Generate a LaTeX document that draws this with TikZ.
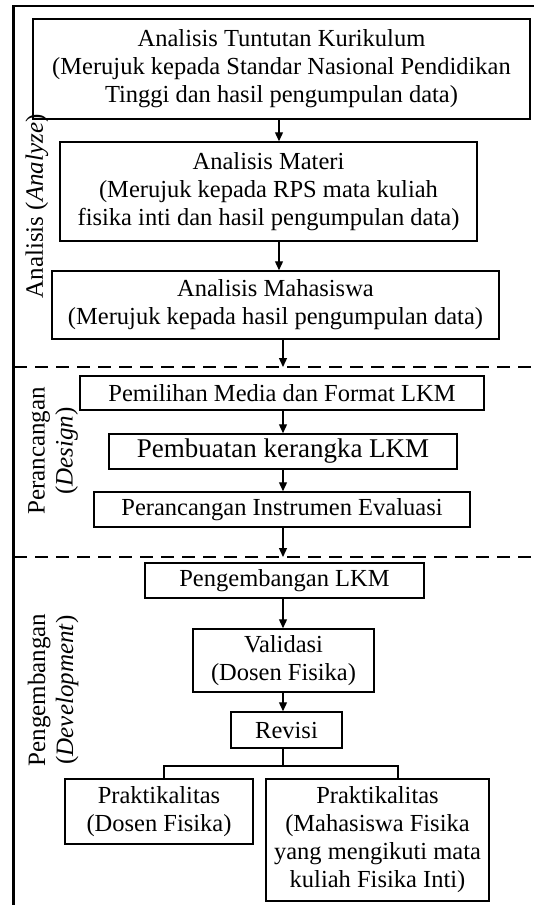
\documentclass[tikz,border=0pt]{standalone}
\usepackage{fontspec}
\setmainfont{Liberation Serif}
\usetikzlibrary{arrows.meta}
\tikzset{
  box/.style={draw, line width=1.5pt, inner sep=0pt, align=center, font=\fontsize{24.5}{28}\selectfont},
  bigbox/.style={box, font=\fontsize{27}{30}\selectfont},
  arr/.style={line width=1.3pt, -{Triangle[length=9pt,width=8pt]}},
  link/.style={line width=1.3pt},
  frame/.style={line width=2.8pt},
  dashline/.style={line width=1.6pt, dash pattern=on 13pt off 8pt},
  phase/.style={rotate=90, inner sep=0pt, align=center, font=\fontsize{25}{28}\selectfont}
}
\begin{document}
\begin{tikzpicture}[x=1pt,y=-1pt]
\useasboundingbox (0,0) rectangle (534,905);
\draw[frame] (534,6) -- (13.5,6) -- (13.5,905);
% arrow columns
\coordinate (ax1) at (279,0);
\coordinate (ax2) at (283,0);
\coordinate (d1) at (14,367);
\coordinate (d1r) at (534,367);
\coordinate (d2) at (14,557);
\coordinate (d2r) at (534,557);
\draw[dashline] (d1) -- (d1r);
\draw[dashline] (d2) -- (d2r);
% boxes
\node[box, minimum width=497pt, minimum height=100pt] (b1) at (281.5,69)
  {Analisis Tuntutan Kurikulum\\(Merujuk kepada Standar Nasional Pendidikan\\Tinggi dan hasil pengumpulan data)};
\node[box, minimum width=417pt, minimum height=99pt] (b2) at (268.5,191.5)
  {Analisis Materi\\(Merujuk kepada RPS mata kuliah\\fisika inti dan hasil pengumpulan data)};
\node[box, minimum width=447pt, minimum height=68pt] (b3) at (275.5,305)
  {Analisis Mahasiswa\\(Merujuk kepada hasil pengumpulan data)};
\node[box, minimum width=404pt, minimum height=34pt] (b4) at (282,393)
  {Pemilihan Media dan Format LKM};
\node[bigbox, minimum width=348pt, minimum height=35pt] (b5) at (283,451.5)
  {Pembuatan kerangka LKM};
\node[box, minimum width=376pt, minimum height=35pt] (b6) at (282,509.5)
  {Perancangan Instrumen Evaluasi};
\node[box, minimum width=279pt, minimum height=35pt] (b7) at (284.5,580.5)
  {Pengembangan LKM};
\node[box, minimum width=181pt, minimum height=63pt] (b8) at (283.5,660.5)
  {Validasi\\(Dosen Fisika)};
\node[box, minimum width=111pt, minimum height=36pt] (b9) at (286.5,730)
  {Revisi};
\node[box, minimum width=188pt, minimum height=65pt] (b10) at (159,811.5)
  {Praktikalitas\\(Dosen Fisika)};
\node[box, minimum width=223pt, minimum height=122pt] (b11) at (377.5,840)
  {Praktikalitas\\(Mahasiswa Fisika\\yang mengikuti mata\\kuliah Fisika Inti)};
% phase labels
\node[phase] (p1) at (37,206.5) {Analisis (\textit{Analyze})};
\node[phase] (p2) at (53,451) {Perancangan\\(\textit{Design})};
\node[phase] (p3) at (53,690) {Pengembangan\\(\textit{Development})};
% arrows
\draw[arr] (b1.south -| ax1) -- (b2.north -| ax1);
\draw[arr] (b2.south -| ax1) -- (b3.north -| ax1);
\draw[arr] (b3.south -| ax2) -- (d1 -| ax2);
\draw[arr] (b4.south -| ax2) -- (b5.north -| ax2);
\draw[arr] (b5.south -| ax2) -- (b6.north -| ax2);
\draw[arr] (b6.south -| ax2) -- (d2 -| ax2);
\draw[arr] (b7.south -| ax2) -- (b8.north -| ax2);
\draw[arr] (b8.south -| ax2) -- (b9.north -| ax2);
% fork
\coordinate (fL) at (164,766);
\coordinate (fR) at (398,766);
\draw[link] (b9.south -| ax2) -- (fL -| ax2);
\draw[link] (b10.north -| fL) -- (fL) -- (fR) -- (b11.north -| fR);
\end{tikzpicture}
\end{document}
